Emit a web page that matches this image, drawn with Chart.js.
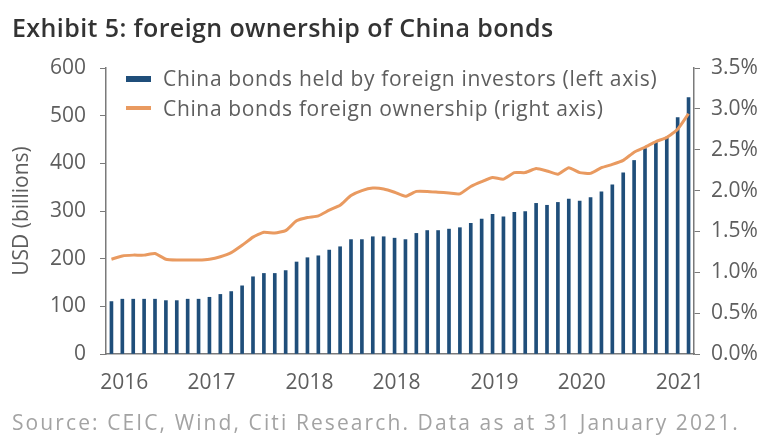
<!DOCTYPE html>
<html>
<head>
<meta charset="utf-8">
<script src="https://cdn.jsdelivr.net/npm/chart.js@4/dist/chart.umd.min.js"></script>
<style>
    html, body { margin: 0; padding: 0; background: #fff; }
    body { width: 764px; height: 439px; position: relative; overflow: hidden; font-family: "Open Sans", sans-serif; }
    #title { position: absolute; left: 12px; top: 12px; font-size: 25px; line-height: 30px; font-weight: 600; color: #333; letter-spacing: 0.4px; white-space: nowrap; }
    #source { position: absolute; left: 12px; top: 407px; font-size: 21px; line-height: 30px; color: #a3a3a3; letter-spacing: 2.1px; white-space: nowrap; }
    #chartBox { position: absolute; left: 0; top: 0; width: 764px; height: 439px; }
    .legend-key { position: absolute; left: 126px; width: 25px; }
    .legend-text { position: absolute; left: 163px; font-size: 21px; line-height: 30px; color: #5e5e5e; letter-spacing: 0.65px; white-space: nowrap; }
</style>
</head>
<body>
<div id="chartBox"><canvas id="bondsChart"></canvas></div>
<div id="title">Exhibit 5: foreign ownership of China bonds</div>
<div class="legend-key" style="top:76px;height:6px;background:#1f4e7a"></div>
<div class="legend-text" style="top:63px">China bonds held by foreign investors (left axis)</div>
<div class="legend-key" style="top:106px;height:4px;background:#e99a60"></div>
<div class="legend-text" style="top:93px">China bonds foreign ownership (right axis)</div>
<div id="source">Source: CEIC, Wind, Citi Research. Data as at 31 January 2021.</div>

<script>
// ================= DATA =================
const months = [
    "2016-08", "2016-09", "2016-10", "2016-11", "2016-12",
    "2017-01", "2017-02", "2017-03", "2017-04", "2017-05", "2017-06",
    "2017-07", "2017-08", "2017-09", "2017-10", "2017-11", "2017-12",
    "2018-01", "2018-02", "2018-03", "2018-04", "2018-05", "2018-06",
    "2018-07", "2018-08", "2018-09", "2018-10", "2018-11", "2018-12",
    "2019-01", "2019-02", "2019-03", "2019-04", "2019-05", "2019-06",
    "2019-07", "2019-08", "2019-09", "2019-10", "2019-11", "2019-12",
    "2020-01", "2020-02", "2020-03", "2020-04", "2020-05", "2020-06",
    "2020-07", "2020-08", "2020-09", "2020-10", "2020-11", "2020-12",
    "2021-01"
];

// USD billions held by foreign investors (left axis)
const heldUsd = [
    110, 115, 115, 115, 115, 112, 112, 115, 115, 119, 125, 131,
    143, 162, 169, 169, 175, 193, 202, 206, 218, 225, 240, 240,
    246, 246, 243, 240, 253, 259, 259, 262, 265, 274, 283, 293,
    288, 297, 299, 316, 312, 318, 325, 321, 328, 340, 355, 380,
    406, 431, 446, 455, 496, 538
];

// foreign ownership share, % (right axis)
const ownershipPct = [
    1.16, 1.20, 1.21, 1.21, 1.23, 1.16, 1.15, 1.15, 1.15, 1.16, 1.19, 1.24,
    1.33, 1.43, 1.49, 1.48, 1.51, 1.63, 1.67, 1.69, 1.76, 1.82, 1.94, 2.00,
    2.03, 2.02, 1.98, 1.93, 1.99, 1.99, 1.98, 1.97, 1.96, 2.05, 2.11, 2.16,
    2.14, 2.22, 2.22, 2.27, 2.24, 2.20, 2.28, 2.22, 2.21, 2.28, 2.32, 2.37,
    2.47, 2.53, 2.60, 2.65, 2.75, 2.94
];

const yearLabels = ["2016", "2017", "2018", "2018", "2019", "2020", "2021"];
const yearLabelAt = [1, 9, 18, 26, 35, 43, 52];

const leftTicks = { min: 0, max: 600, step: 100 };
const rightTicks = { min: 0, max: 3.5, step: 0.5 };


// ================= STYLE =================
const BAR_BLUE = "#1f4e7a";
const LINE_ORANGE = "#e99a60";
const AXIS_GREY = "#7a7a7a";
const TEXT_GREY = "#5e5e5e";
const FONT = { family: "'Open Sans', sans-serif", size: 21 };


// ================= CHART =================
function renderChart() {

    const ctx = document.getElementById("bondsChart");

    new Chart(ctx, {
        data: {
            labels: months,
            datasets: [
                {
                    type: "line",
                    label: "China bonds foreign ownership (right axis)",
                    data: ownershipPct,
                    yAxisID: "yRight",
                    borderColor: LINE_ORANGE,
                    borderWidth: 3,
                    pointRadius: 0,
                    tension: 0.15,
                    order: 0
                },
                {
                    type: "bar",
                    label: "China bonds held by foreign investors (left axis)",
                    data: heldUsd,
                    yAxisID: "yLeft",
                    backgroundColor: BAR_BLUE,
                    barThickness: 3,
                    order: 1
                }
            ]
        },
        options: {
            responsive: false,
            animation: false,
            devicePixelRatio: 1,
            layout: {
                padding: { top: 68, left: 0, right: 0, bottom: 45 }
            },
            plugins: {
                legend: { display: false },
                tooltip: { enabled: false }
            },
            scales: {
                x: {
                    type: "category",
                    offset: true,
                    grid: { display: false },
                    border: { color: AXIS_GREY, width: 1.5 },
                    ticks: {
                        autoSkip: false,
                        maxRotation: 0,
                        padding: 8,
                        labelOffset: 2,
                        color: TEXT_GREY,
                        font: FONT,
                        callback: (value, index) => {
                            const k = yearLabelAt.indexOf(index);
                            return k >= 0 ? yearLabels[k] : "";
                        }
                    },
                    afterFit: scale => { scale.height = 40; }
                },
                yLeft: {
                    type: "linear",
                    position: "left",
                    min: leftTicks.min,
                    max: leftTicks.max,
                    grid: { drawOnChartArea: false, tickLength: 6, color: AXIS_GREY },
                    border: { color: AXIS_GREY, width: 1.5 },
                    ticks: {
                        stepSize: leftTicks.step,
                        padding: 14,
                        color: TEXT_GREY,
                        font: FONT
                    },
                    title: {
                        display: true,
                        text: "USD (billions)",
                        color: TEXT_GREY,
                        font: FONT,
                        padding: { top: 9, bottom: 0 }
                    },
                    afterFit: scale => { scale.width = 106; }
                },
                yRight: {
                    type: "linear",
                    position: "right",
                    min: rightTicks.min,
                    max: rightTicks.max,
                    grid: { drawOnChartArea: false, tickLength: 6, color: AXIS_GREY },
                    border: { color: AXIS_GREY, width: 1.5 },
                    ticks: {
                        stepSize: rightTicks.step,
                        padding: 11,
                        color: TEXT_GREY,
                        font: FONT,
                        callback: value => value.toFixed(1) + "%"
                    },
                    afterFit: scale => { scale.width = 70; }
                }
            }
        }
    });

}

document.addEventListener("DOMContentLoaded", () => {
    const canvas = document.getElementById("bondsChart");
    canvas.width = 764;
    canvas.height = 439;
    renderChart();
});
</script>
</body>
</html>
